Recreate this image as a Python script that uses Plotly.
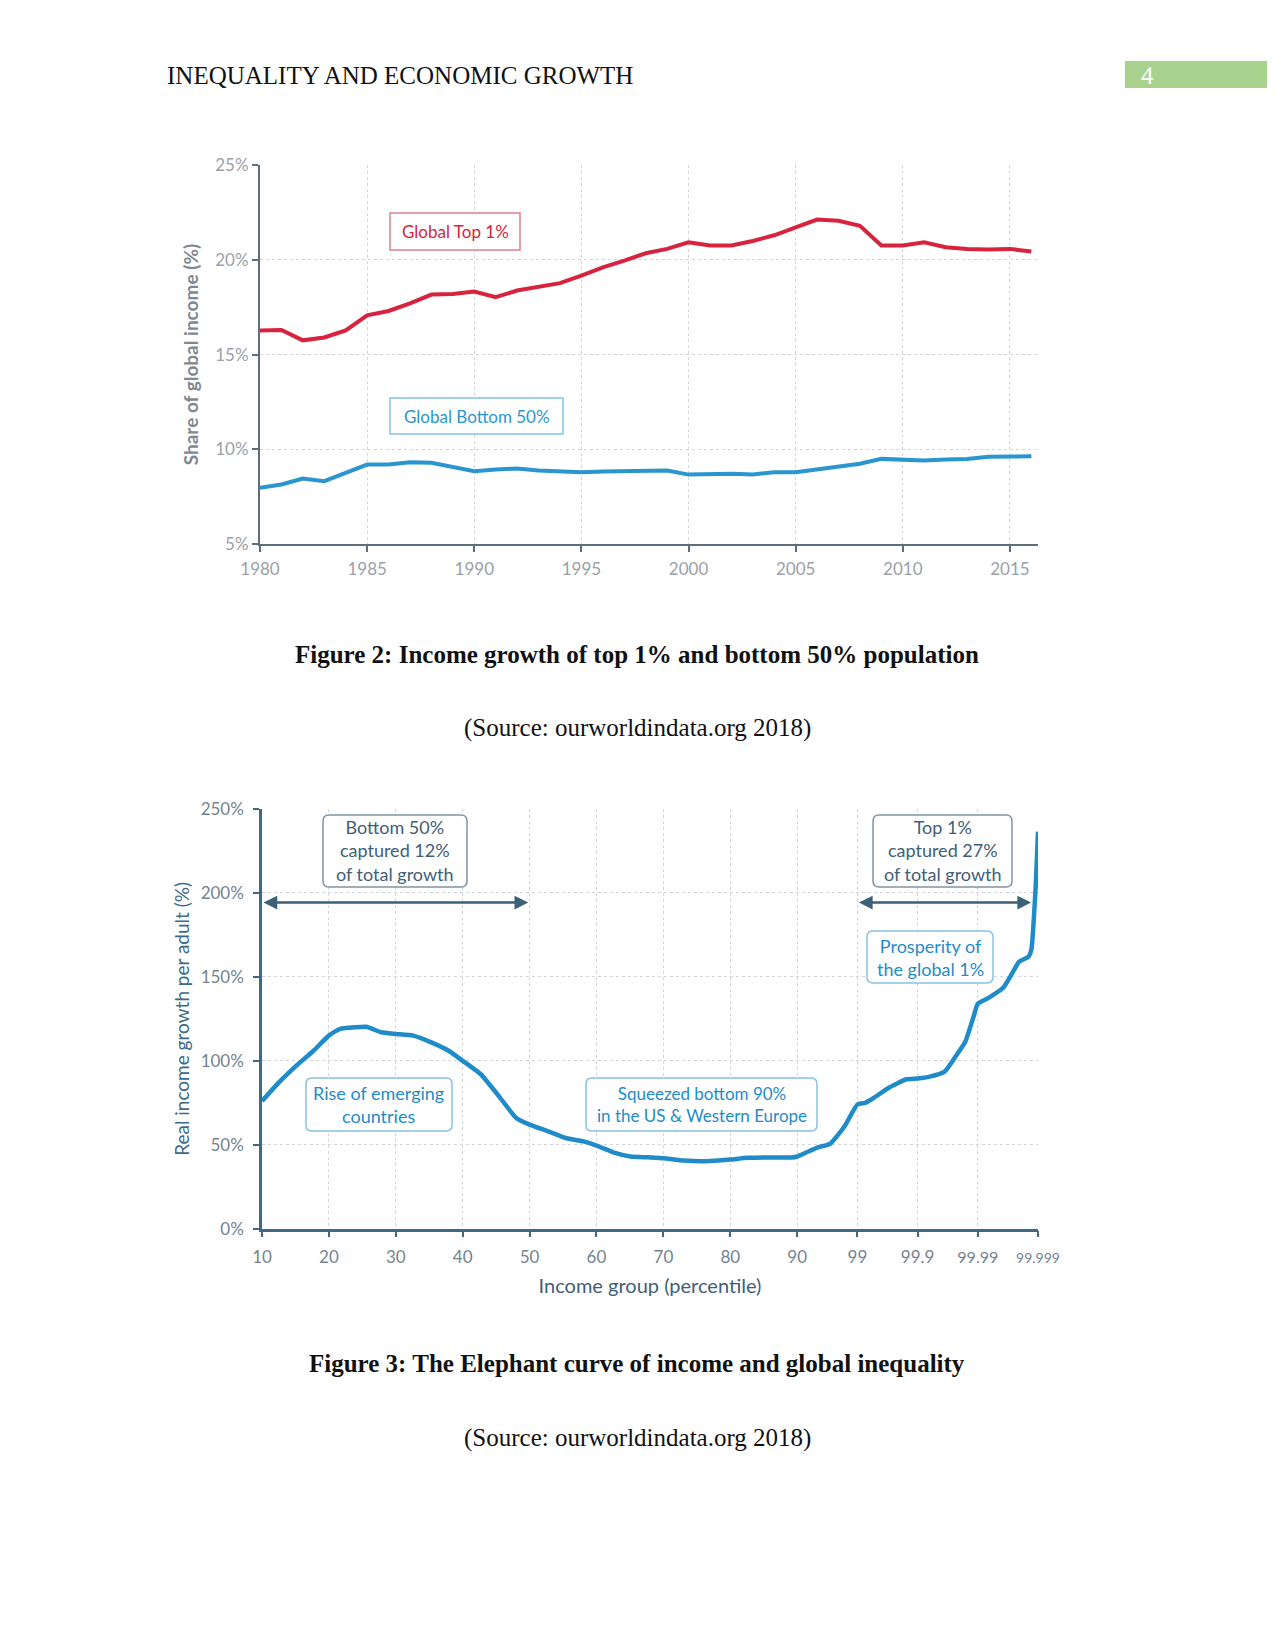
import numpy as np
import plotly.graph_objects as go

# ---------------- Figure 2 data ----------------
years = list(range(1980, 2017))
top1_share = [16.27, 16.3, 15.75, 15.9, 16.27, 17.07, 17.3, 17.7, 18.17, 18.2,
              18.33, 18.03, 18.38, 18.6, 18.77, 19.17, 19.6, 19.96, 20.35, 20.58,
              20.93, 20.76, 20.76, 21.0, 21.3, 21.72, 22.13, 22.07, 21.8, 20.76,
              20.76, 20.93, 20.67, 20.58, 20.55, 20.58, 20.44]
bottom50_share = [7.96, 8.14, 8.45, 8.31, 8.75, 9.19, 9.19, 9.31, 9.28, 9.05,
                  8.84, 8.93, 8.98, 8.88, 8.84, 8.79, 8.82, 8.84, 8.91, 8.88,
                  8.66, 8.70, 8.70, 8.66, 8.79, 8.79, 8.93, 9.1, 9.23, 9.49,
                  9.44, 9.40, 9.46, 9.49, 9.6, 9.63, 9.63]
fig2_xticks = [1980, 1985, 1990, 1995, 2000, 2005, 2010, 2015]
fig2_yticks = [5, 10, 15, 20, 25]

# ---------------- Figure 3 data ----------------
percentile = [10, 12.5, 15.1, 17.7, 20, 21.7, 23.9, 25.6, 27.8, 30, 32.6, 35.3, 37.9,
              40, 42.7, 45.4, 48, 50, 52.8, 55.4, 58.1, 60, 62.5, 65.1, 67.7, 70,
              73, 76.5, 80, 82.6, 86.1, 89.2, 90, 93.0, 95.5, 97.15, 98.37, 99,
              99.26, 99.47, 99.70, 99.846, 99.9, 99.937, 99.964, 99.977, 99.9837,
              99.9884, 99.99, 99.99336, 99.99621, 99.9973, 99.99793, 99.99856,
              99.99871, 99.9989, 99.999]
growth = [76, 87, 97, 106, 115, 119, 120, 120.3, 117, 116, 115, 111, 106,
          100, 92, 79, 66, 62, 58, 54, 52, 49.5, 45.5, 43, 42.5, 42,
          40.6, 40.2, 41.2, 42.2, 42.4, 42.4, 43, 45.5, 48.5, 50.5, 61, 74,
          75, 78, 84, 89, 89.5, 90.6, 93.4, 103, 111,
          127, 134, 137.5, 143.5, 152, 159, 162,
          166, 202, 236.5]
fig3_xtick_labels = ["10", "20", "30", "40", "50", "60", "70", "80", "90",
                     "99", "99.9", "99.99", "99.999"]
fig3_yticks = [0, 50, 100, 150, 200, 250]


def pct_to_pos(p):
    """Percentile scale of the elephant chart: linear up to 90, log-like above."""
    p = float(p)
    if p <= 90:
        return p / 10.0
    return 9 + 0.9 * np.log10(10.0 / (100.0 - p))


W, H = 1275, 1650
OFF = 8  # page body margin offset


def px(x):
    return (x - OFF) / W


def py(y):
    return 1 - (y - OFF) / H


SERIF = "Liberation Serif"
SANS = "Lato"
RED = "#d7233d"
BLUE1 = "#2b95cf"
BLUE2 = "#1f8bc9"
SLATE = "#3f6079"

fig = go.Figure()

fig.add_trace(go.Scatter(x=years, y=top1_share, mode="lines",
                         line=dict(color=RED, width=4), xaxis="x", yaxis="y",
                         showlegend=False, hoverinfo="skip"))
fig.add_trace(go.Scatter(x=years, y=bottom50_share, mode="lines",
                         line=dict(color=BLUE1, width=4), xaxis="x", yaxis="y",
                         showlegend=False, hoverinfo="skip"))
fig.add_trace(go.Scatter(x=[pct_to_pos(p) for p in percentile], y=growth, mode="lines",
                         line=dict(color=BLUE2, width=4.5, shape="spline", smoothing=0.5),
                         xaxis="x2", yaxis="y2", showlegend=False, hoverinfo="skip"))

grid_c = "#d2d6da"
common = dict(showgrid=True, gridcolor=grid_c, griddash="dot", gridwidth=1,
              zeroline=False, fixedrange=True, automargin=False, showline=True,
              ticks="outside", ticklen=6, tickwidth=2)


def small(lbl):
    if lbl == "99.999":
        return '<span style="font-size:14px">99.999</span>'
    if lbl == "99.99":
        return '<span style="font-size:16px">99.99</span>'
    return lbl


fig.update_layout(
    width=W, height=H, margin=dict(l=0, r=0, t=0, b=0, autoexpand=False),
    autosize=False, paper_bgcolor="white", plot_bgcolor="white",
    xaxis=dict(domain=[px(260), px(1038)], range=[1980, 2016.31],
               tickvals=fig2_xticks, ticktext=[str(v) for v in fig2_xticks],
               linecolor="#5d6d7b", linewidth=2, tickcolor="#5d6d7b",
               tickfont=dict(family=SANS, size=17, color="#9ba1a8"),
               ticklabelstandoff=3, anchor="y", **common),
    yaxis=dict(domain=[py(543.9), py(165.2)], range=[5, 25],
               tickvals=fig2_yticks, ticktext=[f"{v}%" for v in fig2_yticks],
               linecolor="#5d6d7b", linewidth=2, tickcolor="#5d6d7b",
               tickfont=dict(family=SANS, size=17, color="#9ba1a8"),
               title=dict(text="<b>Share of global income (%)</b>",
                          font=dict(family=SANS, size=19, color="#7f8892"), standoff=12),
               anchor="x", **common),
    xaxis2=dict(domain=[px(262), px(1038)], range=[1, 12.6],
                tickvals=[pct_to_pos(float(t)) for t in fig3_xtick_labels],
                ticktext=[small(t) for t in fig3_xtick_labels],
                linecolor="#3f6a86", linewidth=2.5, tickcolor="#3f6a86",
                tickfont=dict(family=SANS, size=17, color="#74848f"),
                ticklabelstandoff=5,
                title=dict(text="Income group (percentile)",
                           font=dict(family=SANS, size=20, color=SLATE), standoff=14),
                anchor="y2", **common),
    yaxis2=dict(domain=[py(1228.7), py(809)], range=[0, 250],
                tickvals=fig3_yticks, ticktext=[f"{v}%" for v in fig3_yticks],
                linecolor="#3f6a86", linewidth=2.5, tickcolor="#3f6a86",
                tickfont=dict(family=SANS, size=17, color="#74848f"),
                ticklabelstandoff=6,
                title=dict(text="Real income growth per adult (%)",
                           font=dict(family=SANS, size=19, color="#3d6a88"), standoff=6),
                anchor="x2", **common),
)

ann = []
shapes = []
# Page header
ann.append(dict(text="INEQUALITY AND ECONOMIC GROWTH", x=px(165), y=py(75),
                xref="paper", yref="paper", xanchor="left", yanchor="middle",
                showarrow=False, font=dict(family=SERIF, size=25, color="#111")))
shapes.append(dict(type="rect", xref="paper", yref="paper", x0=px(1125), x1=1.05,
                   y0=py(88), y1=py(61), fillcolor="#a9d18e", line=dict(width=0), layer="below"))
ann.append(dict(text="4", x=px(1147), y=py(75), xref="paper", yref="paper",
                xanchor="center", yanchor="middle", showarrow=False,
                font=dict(family=SERIF, size=25, color="white")))

# Captions
for txt, yy, bold in [("Figure 2: Income growth of top 1% and bottom 50% population", 654, True),
                      ("(Source: ourworldindata.org 2018)", 728, False),
                      ("Figure 3: The Elephant curve of income and global inequality", 1363, True),
                      ("(Source: ourworldindata.org 2018)", 1438, False)]:
    ann.append(dict(text=f"<b>{txt}</b>" if bold else txt, x=px(637), y=py(yy),
                    xref="paper", yref="paper", xanchor="center", yanchor="middle",
                    showarrow=False, font=dict(family=SERIF, size=25, color="#111")))


def rounded_box(x0, y0, x1, y1, r, color, width=1.5):
    X0, X1 = px(x0), px(x1)
    Y0, Y1 = py(y0), py(y1)  # Y0 top, Y1 bottom (paper)
    rx, ry = r / W, r / H
    path = (f"M {X0+rx},{Y0} L {X1-rx},{Y0} Q {X1},{Y0} {X1},{Y0-ry} "
            f"L {X1},{Y1+ry} Q {X1},{Y1} {X1-rx},{Y1} L {X0+rx},{Y1} "
            f"Q {X0},{Y1} {X0},{Y1+ry} L {X0},{Y0-ry} Q {X0},{Y0} {X0+rx},{Y0} Z")
    shapes.append(dict(type="path", path=path, xref="paper", yref="paper",
                       line=dict(color=color, width=width), fillcolor="white", layer="above"))


def box_label(text, x0, y0, x1, y1, color, border, size, r=6):
    rounded_box(x0, y0, x1, y1, r, border)
    ann.append(dict(text=text, x=px((x0 + x1) / 2), y=py((y0 + y1) / 2),
                    xref="paper", yref="paper", xanchor="center", yanchor="middle",
                    showarrow=False, font=dict(family=SANS, size=size, color=color)))


# Figure 2 labels (square corners)
box_label("Global Top 1%", 390, 213, 520, 250, RED, "#e07f8e", 17, r=0)
box_label("Global Bottom 50%", 390, 398, 563, 434, BLUE1, "#82c3e6", 17, r=0)

# Figure 3 labels
box_label("Bottom 50%<br>captured 12%<br>of total growth", 323, 815, 467, 887, SLATE, "#7f95a4", 18)
box_label("Top 1%<br>captured 27%<br>of total growth", 873, 815, 1012, 887, SLATE, "#7f95a4", 18)
box_label("Prosperity of<br>the global 1%", 867, 931, 993, 983, BLUE2, "#86c1e2", 18)
box_label("Rise of emerging<br>countries", 306, 1078, 452, 1131, BLUE2, "#86c1e2", 18)
box_label("Squeezed bottom 90%<br>in the US &amp; Western Europe", 586, 1078, 817, 1131, BLUE2, "#86c1e2", 17)

# Double-headed arrows (percentile span)
for p0, p1 in [(10, 49.8), (99, 99.9987)]:
    ann.append(dict(x=pct_to_pos(p1), y=194.3, ax=pct_to_pos(p0), ay=194.3, xref="x2", yref="y2",
                    axref="x2", ayref="y2", text="", showarrow=True,
                    arrowhead=2, startarrowhead=2, arrowside="end+start",
                    arrowsize=1.1, startarrowsize=1.1, arrowwidth=2.5, arrowcolor="#3a6178"))

fig.update_layout(annotations=ann, shapes=shapes)
fig.write_html("out.html")
